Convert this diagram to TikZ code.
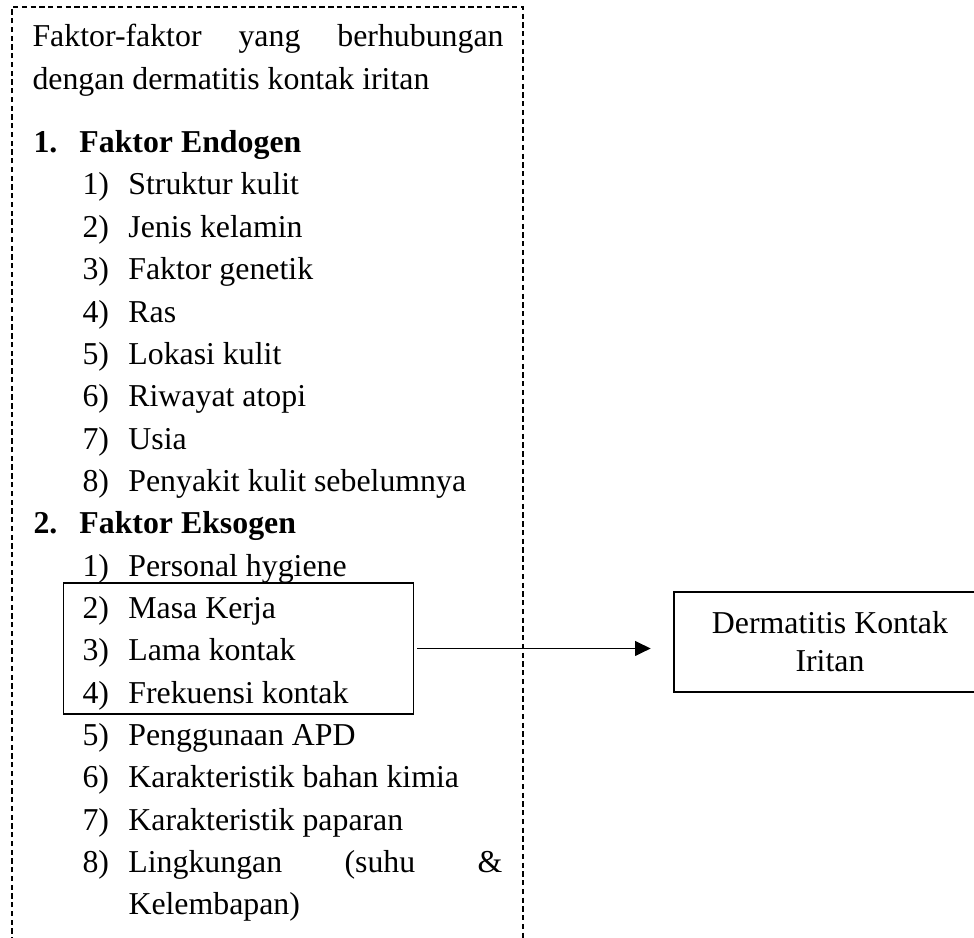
\documentclass[tikz,border=0pt]{standalone}
\usepackage{fontspec}
\setmainfont{Liberation Serif}
\usepackage{tikz}
\usetikzlibrary{arrows.meta,positioning}
\newcommand{\numbox}[1]{\makebox[17.3pt][l]{#1}}
\tikzset{
  itemtext/.style={anchor=base west, inner sep=0pt, font=\fontsize{12pt}{14.3pt}\selectfont},
  headline/.style={itemtext, font=\fontsize{12pt}{14.3pt}\selectfont\bfseries},
  outerframe/.style={draw=black, line width=0.75pt, dash pattern=on 2pt off 1.3pt},
  groupbox/.style={draw=black, line width=0.4pt, minimum width=132.3pt, minimum height=49.4pt, inner sep=0pt},
  resultbox/.style={draw=black, line width=1pt, align=center, inner sep=0pt, minimum width=117.6pt, minimum height=37.7pt, font=\fontsize{12pt}{14.3pt}\selectfont},
  arrow/.style={-{Triangle[length=5.9pt,width=5.6pt]}, line width=0.5pt}
}
\begin{document}
\begin{tikzpicture}[x=0.377pt,y=-0.377pt]
\useasboundingbox (0,0) rectangle (974,938);
\clip (0,0) rectangle (974,938);
\draw[outerframe] (12,960) -- (12,7) -- (523,7) -- (523,960);

\node[itemtext, text width=177.6pt] (intro1) at (32,47) {\noindent Faktor-faktor\hfill yang\hfill berhubungan};
\node[itemtext] (intro2) at (32,90) {dengan dermatitis kontak iritan};

\node[headline] (endo) at (33,153) {\numbox{1.}Faktor Endogen};
\node[itemtext] (endo1) at (82,195) {\numbox{1)}Struktur kulit};
\node[itemtext] (endo2) at (82,237.4) {\numbox{2)}Jenis kelamin};
\node[itemtext] (endo3) at (82,279.7) {\numbox{3)}Faktor genetik};
\node[itemtext] (endo4) at (82,322.1) {\numbox{4)}Ras};
\node[itemtext] (endo5) at (82,364.4) {\numbox{5)}Lokasi kulit};
\node[itemtext] (endo6) at (82,406.8) {\numbox{6)}Riwayat atopi};
\node[itemtext] (endo7) at (82,449.1) {\numbox{7)}Usia};
\node[itemtext] (endo8) at (82,491.5) {\numbox{8)}Penyakit kulit sebelumnya};

\node[headline] (ekso) at (33,533.8) {\numbox{2.}Faktor Eksogen};
\node[itemtext] (ekso1) at (82,576.2) {\numbox{1)}Personal hygiene};
\node[itemtext] (ekso2) at (82,618.5) {\numbox{2)}Masa Kerja};
\node[itemtext] (ekso3) at (82,660.9) {\numbox{3)}Lama kontak};
\node[itemtext] (ekso4) at (82,703.2) {\numbox{4)}Frekuensi kontak};
\node[itemtext] (ekso5) at (82,745.6) {\numbox{5)}Penggunaan APD};
\node[itemtext] (ekso6) at (82,787.9) {\numbox{6)}Karakteristik bahan kimia};
\node[itemtext] (ekso7) at (82,830.3) {\numbox{7)}Karakteristik paparan};
\node[itemtext, text width=158.3pt] (ekso8) at (82,872.6) {\noindent\numbox{8)}Lingkungan\hfill(suhu\hfill\&};
\node[itemtext] (ekso8b) at (128,915) {Kelembapan)};

\node[groupbox] (factors) at (238.5,648.5) {};
\node[resultbox] (result) at (830,642) {Dermatitis Kontak\\Iritan};
\draw[arrow, shorten <=1.1pt, shorten >=8.3pt] (factors.east) -- (factors.east -| result.west);
\end{tikzpicture}
\end{document}
